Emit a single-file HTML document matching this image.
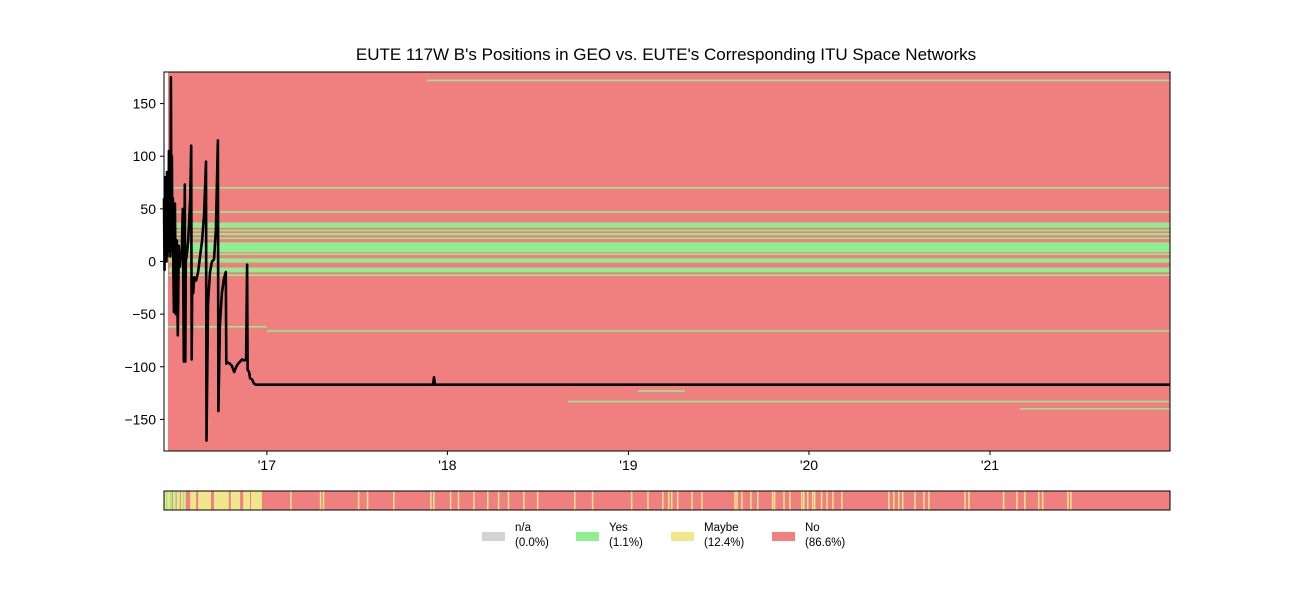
<!DOCTYPE html>
<html><head><meta charset="utf-8"><style>
body{margin:0;background:#fff;width:1300px;height:600px;overflow:hidden}
text{font-family:"Liberation Sans","DejaVu Sans",sans-serif}
</style></head><body>
<svg id="c" width="1300" height="600"></svg>
<script>
// ---- data (x in days since 2016-06-07) ----
const lineDays = [0,1,2,3,4,5,6,7,8,9,10,11,12,13,14,15,16,17,18,19,20,22,24,26,28,30,32,34,36,38,40,42,43,44,47,49,51,53,55,56,57,59,61,65,69,73,77,81,85,86,89,93,97,101,105,109,110,113,117,121,125,126,129,133,137,142,146,150,154,158,162,166,168,169,172,174,178,182,186,544,546,548,2034];
const lineVals = [60,-8,80,10,70,0,85,5,75,10,105,15,100,5,175,30,100,10,60,-10,-48,55,-50,20,-70,15,-5,5,10,50,-95,73,-95,0,10,20,40,60,110,-93,-20,-30,-15,-18,-10,5,20,45,95,-170,-40,-10,0,2,30,115,-142,-60,-30,-17,-10,-97,-96,-97,-99,-105,-100,-97,-95,-93,-94,-93,-3,-103,-105,-111,-112,-116,-117,-117,-110,-117,-117];
const bandStart = [532,10,10,10,10,10,10,10,10,10,10,10,8,208,958,817,1731];
const bandEnd   = [2034,2034,2034,2034,2034,2034,2034,2034,2034,2034,2034,2034,208,2034,1053,2034,2034];
const bandVal   = [172,70,47,34.5,29.5,26,22,13.5,7,1,-8,-13,-62,-66,-123,-133,-140];
const bandWidth = [1.5,1.5,1.5,5,1.5,2,1.5,9.5,1.5,4,4.5,1.5,1.5,1.5,1.5,1.5,1.5];
const maybeDays = [255,315,321,392,410,463,538,544,578,594,625,653,675,695,726,754,829,865,944,977,1007,1019,1025,1037,1066,1086,1153,1157,1167,1185,1199,1229,1233,1252,1264,1288,1292,1300,1310,1314,1328,1339,1351,1369,1464,1474,1484,1492,1517,1535,1545,1618,1626,1696,1723,1739,1767,1775,1826,1832];
const earlyRedStart = [16,24,32,44,65,95,131,154,174];
const earlyRedEnd   = [18,26,34,53,69,101,135,160,176];
const earlyGreen = [4,12,22,38];
const yTicks = [150,100,50,0,-50,-100,-150];
const xTickDays = [208,573,939,1304,1670];
const xTickLabels = ["'17","'18","'19","'20","'21"];
const legendLabels = ["n/a","Yes","Maybe","No"];
const legendPcts = ["(0.0%)","(1.1%)","(12.4%)","(86.6%)"];
const legendColors = ["#d3d3d3","#90ee90","#f0e68c","#f08080"];

const L=164,R=1170,T=72,B=451,D0=0,D1=2034;
const X=d=>L+(d-D0)/(D1-D0)*(R-L);
const Y=v=>T+(180-v)/360*(B-T);
const svg=document.getElementById('c');
const NS='http://www.w3.org/2000/svg';
function mk(tag,attrs,parent){const e=document.createElementNS(NS,tag);for(const k in attrs)e.setAttribute(k,attrs[k]);(parent||svg).appendChild(e);return e;}

let t=mk('text',{x:666,y:60,'text-anchor':'middle','font-size':17});t.textContent="EUTE 117W B's Positions in GEO vs. EUTE's Corresponding ITU Space Networks";



let bg=mk('rect',{x:X(8),y:T,width:R-X(8),height:B-T,fill:'#f08080'});


for(let i=0;i<bandVal.length;i++){
  const y0=Y(bandVal[i]+bandWidth[i]/2),y1=Y(bandVal[i]-bandWidth[i]/2);
  const r=mk('rect',{x:X(bandStart[i]),y:y0,width:X(bandEnd[i])-X(bandStart[i]),height:y1-y0,fill:'#90ee90'});
  
  
}
let pts=lineDays.map((d,i)=>X(d).toFixed(1)+','+Y(lineVals[i]).toFixed(1)).join(' ');
let pl=mk('polyline',{points:pts,fill:'none',stroke:'#000','stroke-width':2.6,'stroke-linejoin':'round'});


let fr=mk('rect',{x:L,y:T,width:R-L,height:B-T,fill:'none',stroke:'#000','stroke-width':1});


yTicks.forEach(v=>{
  mk('line',{x1:L-4,x2:L,y1:Y(v),y2:Y(v),stroke:'#000'});
  const tt=mk('text',{x:L-8,y:Y(v)+5,'text-anchor':'end','font-size':14});tt.textContent=v<0?'\u2212'+(-v):v;
  
  
});
xTickDays.forEach((d,i)=>{
  mk('line',{x1:X(d),x2:X(d),y1:B,y2:B+4,stroke:'#000'});
  const tt=mk('text',{x:X(d),y:B+19,'text-anchor':'middle','font-size':14});tt.textContent=xTickLabels[i];
  
  
});
// strip
const ST=491,SB=510;
let sr=mk('rect',{x:L,y:ST,width:R-L,height:SB-ST,fill:'#f08080'});


let ey=mk('rect',{x:L,y:ST,width:X(198)-L,height:SB-ST,fill:'#f0e68c'});


earlyRedStart.forEach((d,i)=>{mk('rect',{x:X(d),y:ST,width:X(earlyRedEnd[i])-X(d),height:SB-ST,fill:'#f08080'});});
earlyGreen.forEach(d=>{mk('rect',{x:X(d),y:ST,width:1.5,height:SB-ST,fill:'#90ee90'});});
maybeDays.forEach(d=>{
  const r=mk('rect',{x:X(d),y:ST,width:1.5,height:SB-ST,fill:'#f0e68c'});
  
  
});
mk('rect',{x:L,y:ST,width:R-L,height:SB-ST,fill:'none',stroke:'#000'});
// legend
const lx=[482,576,671,772];
legendLabels.forEach((lab,i)=>{
  const g=mk('g',{});
  
  
  mk('rect',{x:lx[i],y:532,width:23,height:9,fill:legendColors[i]},g);
  const a=mk('text',{x:lx[i]+33,y:531,'font-size':11.5},g);a.textContent=lab;
  const b=mk('text',{x:lx[i]+33,y:546,'font-size':11.5},g);b.textContent=legendPcts[i];
});
</script>
</body></html>
